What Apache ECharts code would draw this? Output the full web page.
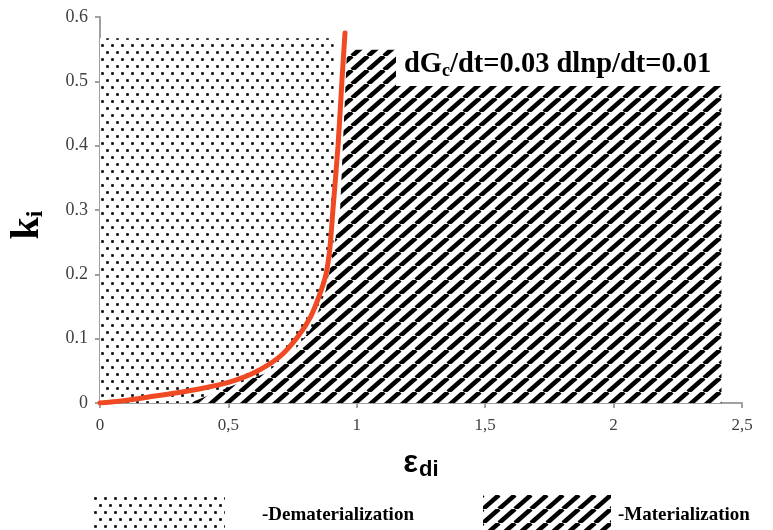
<!DOCTYPE html>
<html lang="en">
<head>
  <meta charset="UTF-8">
  <title>k_i vs epsilon_di</title>
  <script src="https://cdn.jsdelivr.net/npm/echarts@6.0.0/dist/echarts.min.js"></script>
  <style>
    html, body { margin: 0; padding: 0; background: #fff; }
    #main { width: 773px; height: 530px; }
  </style>
</head>
<body>
  <div id="main"></div>
  <script>
    // boundary curve (orange)
    const curveX = [0, 0.1, 0.2, 0.3, 0.4, 0.5, 0.6, 0.7, 0.77, 0.82, 0.855, 0.88, 0.895, 0.907, 0.927, 0.942, 0.954];
    const curveY = [0, 0.004, 0.010, 0.016, 0.023, 0.032, 0.047, 0.072, 0.103, 0.134, 0.168, 0.2, 0.24, 0.3, 0.4, 0.5, 0.575];

    // dotted region (dematerialization)
    const dotX = [0, 0.91, 0.91, 0];
    const dotY = [0, 0, 0.567, 0.567];

    // hatched region (materialization)
    const hatchX = [0.35, 0.49, 0.65, 0.77, 0.83, 0.88, 0.91, 0.935, 0.962, 2.42, 2.42];
    const hatchY = [0, 0.023, 0.047, 0.088, 0.12, 0.176, 0.24, 0.3, 0.549, 0.549, 0];

    function dotPattern() {
      const c = document.createElement('canvas');
      c.width = 10; c.height = 14;
      const g = c.getContext('2d');
      g.fillStyle = '#fff'; g.fillRect(0, 0, 10, 14);
      g.fillStyle = '#000';
      g.fillRect(1.2, 2.2, 2.6, 2.6);
      g.fillRect(6.2, 9.2, 2.6, 2.6);
      return { image: c, repeat: 'repeat' };
    }

    function hatchPattern() {
      const w = 16, h = 14;
      const c = document.createElement('canvas');
      c.width = w; c.height = h;
      const g = c.getContext('2d');
      g.fillStyle = '#fff'; g.fillRect(0, 0, w, h);
      g.strokeStyle = '#000'; g.lineWidth = 4.6;
      [-w, 0, w].forEach(x0 => {
        g.beginPath(); g.moveTo(x0, h); g.lineTo(x0 + w, 0); g.stroke();
      });
      return { image: c, repeat: 'repeat' };
    }

    const dots = dotPattern();
    const hatch = hatchPattern();

    function polygonSeries(name, xs, ys, fill, z) {
      return {
        name: name,
        type: 'custom',
        z: z,
        itemStyle: { color: fill },
        data: [[0, 0]],
        renderItem: function (params, api) {
          const pts = xs.map((x, i) => api.coord([x, ys[i]]));
          return {
            type: 'polygon',
            shape: { points: pts },
            style: { fill: fill, stroke: null }
          };
        }
      };
    }

    const chart = echarts.init(document.getElementById('main'));
    const axisColor = '#a0a0a0';

    chart.setOption({
      animation: false,
      grid: { left: 100, right: 31, top: 17, bottom: 127, outerBoundsMode: 'none' },
      xAxis: {
        type: 'value', min: 0, max: 2.5, interval: 0.5,
        splitLine: { show: false },
        axisLine: { lineStyle: { color: axisColor, width: 2 } },
        axisTick: { show: true, length: 5, lineStyle: { color: axisColor, width: 2 } },
        axisLabel: {
          margin: 14, fontFamily: 'Liberation Serif', fontSize: 17, color: '#404040',
          formatter: v => String(v).replace('.', ',')
        },
        name: '{e|ε}{s|di}',
        nameLocation: 'middle',
        nameGap: 42,
        nameTextStyle: {
          rich: {
            e: { fontFamily: 'Liberation Sans', fontWeight: 'bold', fontSize: 31, color: '#000' },
            s: { fontFamily: 'Liberation Sans', fontWeight: 'bold', fontSize: 22, color: '#000', padding: [14, 0, 0, 1] }
          }
        }
      },
      yAxis: {
        type: 'value', min: 0, max: 0.6, interval: 0.1,
        splitLine: { show: false },
        axisLine: { show: true, lineStyle: { color: axisColor, width: 2 } },
        axisTick: { show: true, length: 5, lineStyle: { color: axisColor, width: 2 } },
        axisLabel: {
          margin: 12, fontFamily: 'Liberation Serif', fontSize: 18, color: '#404040',
          formatter: v => (v === 0 ? '0' : v.toFixed(1))
        },
        name: '{k|k}{s|i}',
        nameLocation: 'middle',
        nameRotate: 90,
        nameGap: 52,
        nameTextStyle: {
          padding: [0, 30, 0, 0],
          rich: {
            k: { fontFamily: 'Liberation Serif', fontWeight: 'bold', fontSize: 40, color: '#000' },
            s: { fontFamily: 'Liberation Serif', fontWeight: 'bold', fontSize: 24, color: '#000', padding: [16, 0, 0, 0] }
          }
        }
      },
      legend: [
        {
          data: ['Dematerialization'],
          left: 88, top: 490,
          icon: 'rect', itemWidth: 132, itemHeight: 40,
          selectedMode: false,
          formatter: n => '-' + n,
          textStyle: { fontFamily: 'Liberation Serif', fontWeight: 'bold', fontSize: 19, color: '#000', padding: [0, 0, 0, 32] }
        },
        {
          data: ['Materialization'],
          left: 478, top: 490,
          icon: 'rect', itemWidth: 128, itemHeight: 40,
          selectedMode: false,
          formatter: n => '-' + n,
          textStyle: { fontFamily: 'Liberation Serif', fontWeight: 'bold', fontSize: 19, color: '#000', padding: [0, 0, 0, 2] }
        }
      ],
      graphic: [
        {
          type: 'text',
          left: 396, top: 48,
          z: 100,
          style: {
            text: '{b|dG}{s|c}{b|/dt=0.03 dlnp/dt=0.01}',
            backgroundColor: '#fff',
            padding: [2, 14, 6, 8],
            rich: {
              b: { fontFamily: 'Liberation Serif', fontWeight: 'bold', fontSize: 28.5, fill: '#000' },
              s: { fontFamily: 'Liberation Serif', fontWeight: 'bold', fontSize: 18, fill: '#000', padding: [12, 0, 0, 0] }
            }
          }
        }
      ],
      series: [
        polygonSeries('Dematerialization', dotX, dotY, dots, 1),
        polygonSeries('Materialization', hatchX, hatchY, hatch, 2),
        {
          name: 'boundary',
          type: 'line',
          z: 5,
          smooth: 0.25,
          symbol: 'none',
          lineStyle: { color: '#EF4A23', width: 5, cap: 'round' },
          data: curveX.map((x, i) => [x, curveY[i]])
        }
      ]
    });
  </script>
</body>
</html>
